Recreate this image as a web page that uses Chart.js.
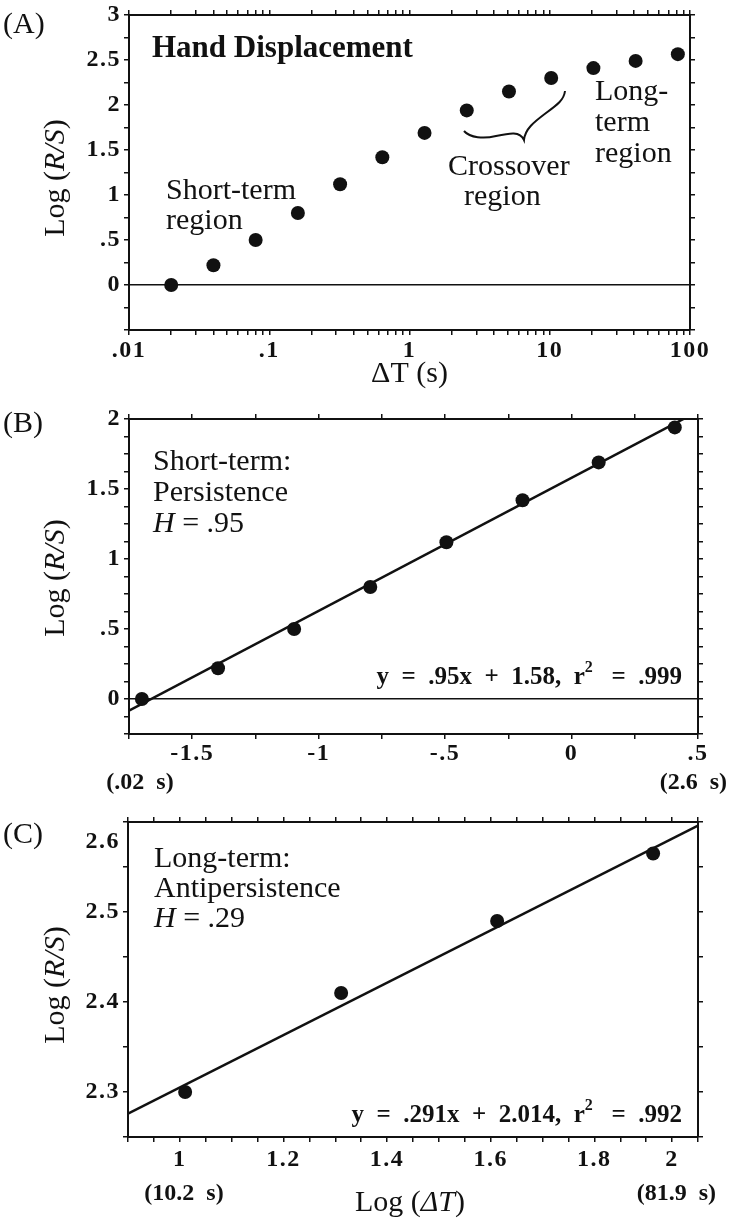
<!DOCTYPE html>
<html>
<head>
<meta charset="utf-8">
<script src="https://cdn.jsdelivr.net/npm/chart.js@4.4.1/dist/chart.umd.min.js"></script>
<style>
  html, body { margin: 0; padding: 0; background: #fff; }
  #wrap { position: relative; width: 729px; height: 1220px; }
  canvas { position: absolute; left: 0; }
</style>
</head>
<body>
<div id="wrap">
  <canvas id="chartA" width="729" height="395" style="top:0px;width:729px;height:395px"></canvas>
  <canvas id="chartB" width="729" height="405" style="top:395px;width:729px;height:405px"></canvas>
  <canvas id="chartC" width="729" height="420" style="top:800px;width:729px;height:420px"></canvas>
</div>
<script>
// Values
const deltaT = [0.02, 0.04, 0.08, 0.16, 0.32, 0.64, 1.28, 2.56, 5.12, 10.24, 20.48, 40.96, 81.92];
const logRS = [0, 0.22, 0.50, 0.80, 1.12, 1.42, 1.69, 1.94, 2.15, 2.30, 2.41, 2.49, 2.565];
const shortCount = 8;   // points used in panel B
const longFirst = 9;    // points used in panel C
const shortFit = { slope: 0.95, intercept: 1.58 };
const longFit = { slope: 0.291, intercept: 2.014 };

// Tick labels
const aXTickVals = [0.01, 0.1, 1, 10, 100];
const aXTickText = ['.01', '.1', '1', '10', '100'];
const aYTickVals = [0, 0.5, 1, 1.5, 2, 2.5, 3];
const aYTickText = ['0', '.5', '1', '1.5', '2', '2.5', '3'];
const bXTickVals = [-1.5, -1, -0.5, 0, 0.5];
const bXTickText = ['-1.5', '-1', '-.5', '0', '.5'];
const bYTickVals = [0, 0.5, 1, 1.5, 2];
const bYTickText = ['0', '.5', '1', '1.5', '2'];
const cXTickVals = [1, 1.2, 1.4, 1.6, 1.8, 2];
const cXTickText = ['1', '1.2', '1.4', '1.6', '1.8', '2'];
const cYTickVals = [2.3, 2.4, 2.5, 2.6];
const cYTickText = ['2.3', '2.4', '2.5', '2.6'];

const FONT = '"Liberation Serif", "Times New Roman", serif';
const INK = '#111';
const REG = '30px ' + FONT;
const ITAL = 'italic 30px ' + FONT;
const BOLD = 'bold 24px ' + FONT;
const EQ = 'bold 25px ' + FONT;
const SUP = 'bold 16px ' + FONT;
const TICK_SPACING = '1.5px';

// tick mark positions (labels only where listed above)
function stepMarks(min, max, step) {
  const out = [];
  for (let v = min; v <= max + 1e-9; v += step) out.push(Math.round(v * 1e6) / 1e6);
  return out;
}
function logMarks(lo, hi) {
  const out = [];
  for (let e = lo; e < hi; e++) {
    for (let m = 1; m < 10; m++) out.push(+(m * Math.pow(10, e)).toPrecision(6));
  }
  out.push(Math.pow(10, hi));
  return out;
}

function findTick(v, vals) {
  return vals.findIndex(t => Math.abs(t - v) <= 1e-6 * Math.max(1, Math.abs(t)));
}

function runs(ctx, x, y, parts, align) {
  let total = 0;
  parts.forEach(p => { ctx.font = p.f; p.w = ctx.measureText(p.t).width; total += p.w; });
  let cx = align === 'right' ? x - total : align === 'center' ? x - total / 2 : x;
  parts.forEach(p => { ctx.font = p.f; ctx.fillText(p.t, cx, y + (p.dy || 0)); cx += p.w; });
}

function yTitle(ctx, baseX, cy) {
  ctx.save();
  ctx.translate(baseX, cy);
  ctx.rotate(-Math.PI / 2);
  runs(ctx, 0, 0, [{ t: 'Log (', f: REG }, { t: 'R/S', f: ITAL }, { t: ')', f: REG }], 'center');
  ctx.restore();
}

function equation(ctx, right, base, lhs, rhs) {
  runs(ctx, right, base, [
    { t: lhs, f: EQ },
    { t: '2', f: SUP, dy: -12 },
    { t: rhs, f: EQ }
  ], 'right');
}

function makePanel(id, cfg) {
  const canvas = document.getElementById(id);
  const W = canvas.width, H = canvas.height, b = cfg.box;

  function axis(spec, position, size, showLabels, zeroLine) {
    const horiz = position === 'top' || position === 'bottom';
    return {
      type: spec.type || 'linear',
      position: position,
      min: spec.min,
      max: spec.max,
      afterBuildTicks: s => { s.ticks = spec.marks.map(v => ({ value: v })); },
      afterFit: s => {
        if (horiz) s.height = size; else s.width = size;
        s.paddingLeft = s.paddingRight = s.paddingTop = s.paddingBottom = 0;
      },
      border: { display: true, color: INK, width: 2 },
      grid: {
        drawOnChartArea: !!zeroLine,
        color: c => (zeroLine && c.tick && Math.abs(c.tick.value) < 1e-9) ? INK : 'rgba(0,0,0,0)',
        lineWidth: 1.5,
        drawTicks: true,
        tickLength: 5,
        tickColor: INK,
        tickWidth: 1.5
      },
      ticks: {
        autoSkip: false,
        maxRotation: 0,
        minRotation: 0,
        padding: horiz ? cfg.xPad : 3,
        color: INK,
        font: { family: FONT, size: 24, weight: 'bold' },
        callback: v => {
          if (!showLabels) return '';
          const i = findTick(v, spec.tickVals);
          if (i < 0) return '';
          if (spec.shift && Math.abs(spec.shift.value - v) < 1e-6) return '';
          return spec.tickText[i];
        }
      }
    };
  }

  const notes = {
    id: 'notes_' + id,
    beforeDraw(chart) { chart.ctx.letterSpacing = TICK_SPACING; },
    afterDraw(chart) {
      const ctx = chart.ctx;
      const area = chart.chartArea;
      ctx.save();
      ctx.fillStyle = INK;
      ctx.strokeStyle = INK;
      // tick labels that sit off their tick in the original
      ctx.letterSpacing = TICK_SPACING;
      ctx.font = BOLD;
      [['x', cfg.x], ['y', cfg.y]].forEach(([key, spec]) => {
        if (!spec.shift) return;
        const i = findTick(spec.shift.value, spec.tickVals);
        const p = chart.scales[key].getPixelForValue(spec.shift.value);
        ctx.textBaseline = 'middle';
        if (key === 'x') {
          ctx.textAlign = 'center';
          ctx.fillText(spec.tickText[i], p + spec.shift.dx, area.bottom + 5 + cfg.xPad + 14.4);
        } else {
          ctx.textAlign = 'right';
          ctx.fillText(spec.tickText[i], area.left - 8, p + spec.shift.dy);
        }
      });
      ctx.letterSpacing = '0px';
      ctx.textAlign = 'left';
      ctx.textBaseline = 'alphabetic';
      ctx.translate(0, -cfg.top);
      cfg.draw(ctx);
      ctx.restore();
    }
  };

  return new Chart(canvas, {
    type: 'scatter',
    data: { datasets: cfg.datasets },
    options: {
      responsive: false,
      animation: false,
      events: [],
      layout: { padding: 0 },
      plugins: { legend: { display: false }, tooltip: { enabled: false } },
      scales: {
        x: axis(cfg.x, 'bottom', H - b.bottom, true, false),
        xTop: axis(cfg.x, 'top', b.top, false, false),
        y: axis(cfg.y, 'left', b.left, true, cfg.zeroLine),
        yRight: axis(cfg.y, 'right', W - b.right, false, false)
      }
    },
    plugins: [notes]
  });
}

function pointSet(data) {
  return {
    data: data,
    showLine: false,
    pointRadius: 7,
    pointBackgroundColor: INK,
    pointBorderWidth: 0,
    clip: false
  };
}
function fitSet(fit, x0, x1) {
  return {
    data: [{ x: x0, y: fit.slope * x0 + fit.intercept }, { x: x1, y: fit.slope * x1 + fit.intercept }],
    showLine: true,
    pointRadius: 0,
    borderColor: INK,
    borderWidth: 2.5
  };
}

// (A) full range, log time axis
makePanel('chartA', {
  top: 0,
  box: { left: 129, right: 690, top: 15, bottom: 330 },
  xPad: 1,
  zeroLine: true,
  x: { type: 'logarithmic', min: 0.01, max: 100, marks: logMarks(-2, 2), tickVals: aXTickVals, tickText: aXTickText },
  y: { min: -0.5, max: 3, marks: stepMarks(-0.5, 3, 0.25), tickVals: aYTickVals, tickText: aYTickText },
  datasets: [pointSet(deltaT.map((t, i) => ({ x: t, y: logRS[i] })))],
  draw(ctx) {
    runs(ctx, 3, 33, [{ t: '(A)', f: REG }]);
    runs(ctx, 152, 57, [{ t: 'Hand Displacement', f: 'bold 31px ' + FONT }]);
    runs(ctx, 166, 199, [{ t: 'Short-term', f: REG }]);
    runs(ctx, 166, 229, [{ t: 'region', f: REG }]);
    runs(ctx, 448, 175, [{ t: 'Crossover', f: REG }]);
    runs(ctx, 464, 205, [{ t: 'region', f: REG }]);
    runs(ctx, 595, 100, [{ t: 'Long-', f: REG }]);
    runs(ctx, 595, 131, [{ t: 'term', f: REG }]);
    runs(ctx, 595, 162, [{ t: 'region', f: REG }]);
    // brace under the crossover points
    ctx.lineWidth = 2;
    ctx.beginPath();
    ctx.moveTo(464, 131);
    ctx.bezierCurveTo(470, 138, 484, 139, 496, 136);
    ctx.bezierCurveTo(510, 133, 520, 131, 524, 140);
    ctx.bezierCurveTo(525, 129, 534, 122, 546, 113);
    ctx.bezierCurveTo(557, 105, 564, 100, 565, 91);
    ctx.stroke();
    runs(ctx, 409.5, 382, [{ t: '\u0394T (s)', f: REG }], 'center');
    yTitle(ctx, 64, 178);
  }
});

// (B) short-term region
const bMin = -1.75, bMax = 0.5;
makePanel('chartB', {
  top: 395,
  box: { left: 129, right: 698, top: 24, bottom: 339 },
  xPad: 0,
  zeroLine: true,
  x: { min: bMin, max: bMax, marks: stepMarks(bMin, bMax, 0.25), tickVals: bXTickVals, tickText: bXTickText },
  y: { min: -0.25, max: 2, marks: stepMarks(-0.25, 2, 0.125), tickVals: bYTickVals, tickText: bYTickText },
  datasets: [
    pointSet(deltaT.slice(0, shortCount).map((t, i) => ({ x: Math.log10(t), y: logRS[i] }))),
    fitSet(shortFit, bMin, bMax)
  ],
  draw(ctx) {
    runs(ctx, 3, 432, [{ t: '(B)', f: REG }]);
    runs(ctx, 153, 470, [{ t: 'Short-term:', f: REG }]);
    runs(ctx, 153, 501, [{ t: 'Persistence', f: REG }]);
    runs(ctx, 153, 532, [{ t: 'H', f: ITAL }, { t: ' = .95', f: REG }]);
    equation(ctx, 682, 684, 'y  =  .95x  +  1.58,  r', '   =  .999');
    runs(ctx, 140, 789, [{ t: '(.02  s)', f: BOLD }], 'center');
    runs(ctx, 727, 789, [{ t: '(2.6  s)', f: BOLD }], 'right');
    yTitle(ctx, 64, 578);
  }
});

// (C) long-term region
const cMin = 0.9, cMax = 2.0;
makePanel('chartC', {
  top: 800,
  box: { left: 128, right: 698, top: 22, bottom: 337 },
  xPad: 3,
  zeroLine: false,
  x: { min: cMin, max: cMax, marks: stepMarks(cMin, cMax, 0.05), tickVals: cXTickVals, tickText: cXTickText, shift: { value: 2, dx: -26 } },
  y: { min: 2.25, max: 2.6, marks: stepMarks(2.25, 2.6, 0.05), tickVals: cYTickVals, tickText: cYTickText, shift: { value: 2.6, dy: 20 } },
  datasets: [
    pointSet(deltaT.slice(longFirst).map((t, i) => ({ x: Math.log10(t), y: logRS[longFirst + i] }))),
    fitSet(longFit, cMin, cMax)
  ],
  draw(ctx) {
    runs(ctx, 3, 843, [{ t: '(C)', f: REG }]);
    runs(ctx, 154, 867, [{ t: 'Long-term:', f: REG }]);
    runs(ctx, 154, 897, [{ t: 'Antipersistence', f: REG }]);
    runs(ctx, 154, 927, [{ t: 'H', f: ITAL }, { t: ' = .29', f: REG }]);
    equation(ctx, 682, 1122, 'y  =  .291x  +  2.014,  r', '   =  .992');
    runs(ctx, 184, 1200, [{ t: '(10.2  s)', f: BOLD }], 'center');
    runs(ctx, 716, 1200, [{ t: '(81.9  s)', f: BOLD }], 'right');
    runs(ctx, 410, 1211, [{ t: 'Log (', f: REG }, { t: '\u0394T', f: ITAL }, { t: ')', f: REG }], 'center');
    yTitle(ctx, 64, 985);
  }
});
</script>
</body>
</html>
